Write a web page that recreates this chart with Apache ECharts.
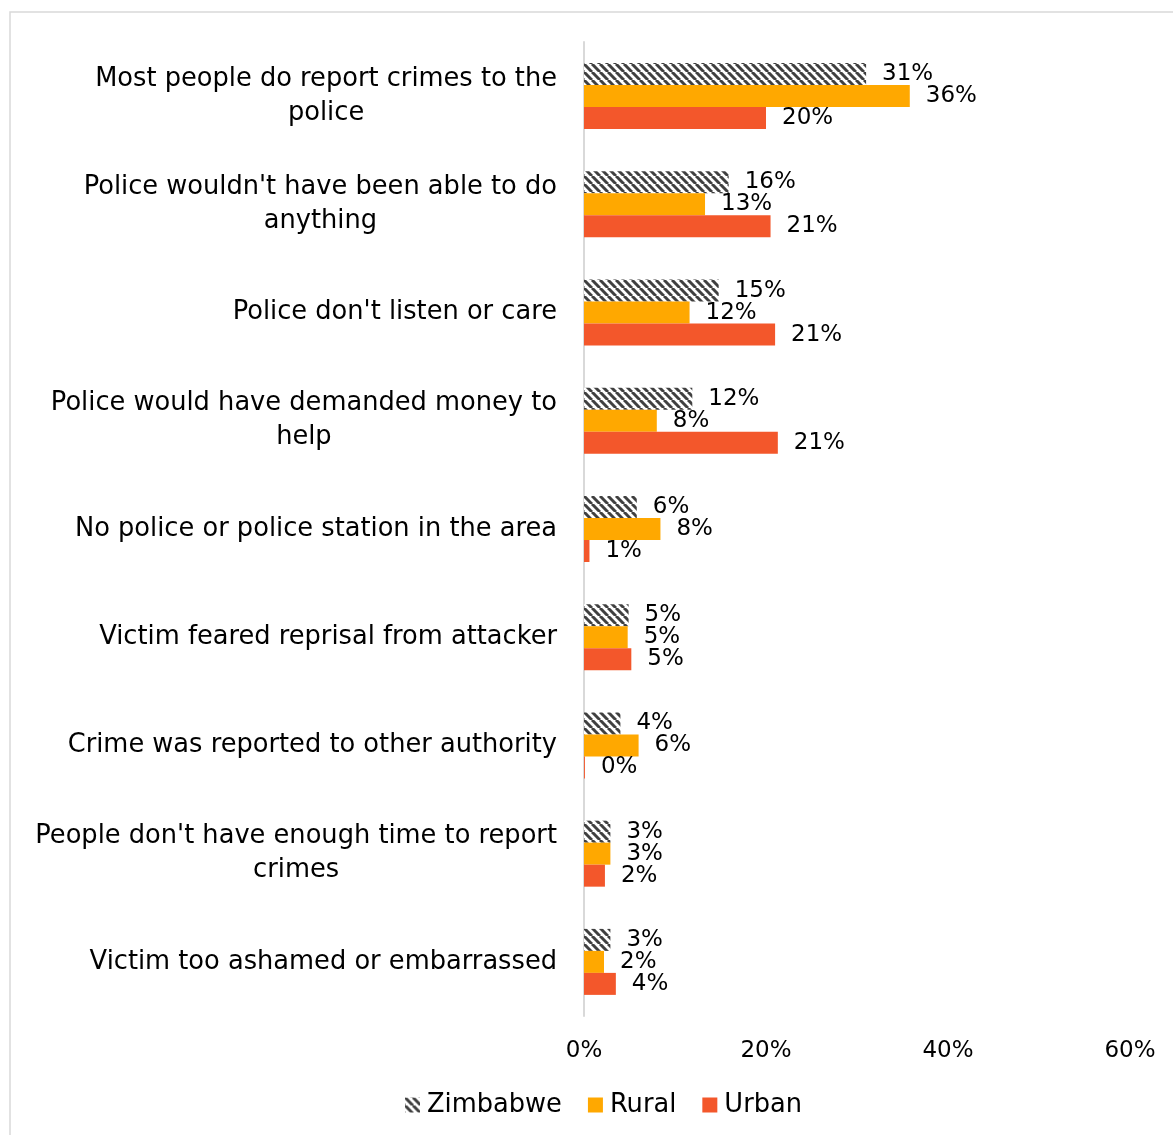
<!DOCTYPE html>
<html>
<head>
<meta charset="utf-8">
<script src="https://cdn.jsdelivr.net/npm/echarts@6/dist/echarts.min.js"></script>
<style>
html,body{margin:0;padding:0;background:#fff;}
#chart{width:1173px;height:1135px;}
</style>
</head>
<body>
<div id="chart"></div>
<script>
const categories = [
  "Most people do report crimes to the\npolice",
  "Police wouldn't have been able to do\nanything",
  "Police don't listen or care",
  "Police would have demanded money to\nhelp",
  "No police or police station in the area",
  "Victim feared reprisal from attacker",
  "Crime was reported to other authority",
  "People don't have enough time to report\ncrimes",
  "Victim too ashamed or embarrassed"
];
const zimbabwe = [31.0, 15.9, 14.8, 11.9, 5.8, 4.9, 4.0, 2.9, 2.9];
const rural    = [35.8, 13.3, 11.6, 8.0, 8.4, 4.8, 6.0, 2.9, 2.2];
const urban    = [20.0, 20.5, 21.0, 21.3, 0.6, 5.2, 0.1, 2.3, 3.5];
const xTicks = [0, 20, 40, 60];

const FONT = "DejaVu Sans";
const FS_TEXT = 25.7;
const FS_NUM = 23;

function hatch() {
  const c = document.createElement('canvas');
  c.width = 8; c.height = 8;
  const g = c.getContext('2d');
  g.fillStyle = '#ffffff';
  g.fillRect(0, 0, 8, 8);
  g.strokeStyle = '#404040';
  g.lineWidth = 3;
  for (let k = -8; k <= 16; k += 8) {
    g.beginPath();
    g.moveTo(k, 0);
    g.lineTo(k + 8, 8);
    g.stroke();
  }
  return c;
}
const hatchPattern = { image: hatch(), repeat: 'repeat' };

const chart = echarts.init(document.getElementById('chart'));
const labelCfg = {
  show: true,
  position: 'right',
  distance: 16,
  color: '#000',
  fontFamily: FONT,
  fontSize: FS_NUM,
  formatter: p => Math.round(p.value) + '%'
};
function mkSeries(name, data, color) {
  return {
    name: name,
    type: 'bar',
    data: data,
    barWidth: 22,
    barGap: '0%',
    itemStyle: { color: color },
    label: labelCfg,
    silent: true
  };
}
chart.setOption({
  animation: false,
  backgroundColor: '#fff',
  graphic: [{
    type: 'rect',
    shape: { x: 10, y: 12, width: 1170, height: 1140 },
    style: { fill: 'none', stroke: '#d9d9d9', lineWidth: 1.5 },
    silent: true,
    z: -1
  }],
  grid: { left: 584, right: 43, top: 42, bottom: 119, containLabel: false },
  xAxis: {
    type: 'value',
    min: xTicks[0],
    max: xTicks[xTicks.length - 1],
    interval: 20,
    splitLine: { show: false },
    axisLine: { show: false },
    axisTick: { show: false },
    axisLabel: {
      formatter: v => v + '%',
      color: '#000',
      fontFamily: FONT,
      fontSize: FS_NUM,
      margin: 24
    }
  },
  yAxis: {
    type: 'category',
    data: categories,
    inverse: true,
    axisLine: { show: true, lineStyle: { color: '#d9d9d9', width: 2 } },
    axisTick: { show: false },
    axisLabel: {
      margin: 27,
      color: '#000',
      fontFamily: FONT,
      fontSize: FS_TEXT,
      lineHeight: 34,
      formatter: v => v.split('\n').map(s => '{c|' + s + '}').join('\n'),
      rich: { c: { align: 'center', fontFamily: FONT, fontSize: FS_TEXT, color: '#000', lineHeight: 34 } }
    }
  },
  legend: {
    bottom: 12,
    left: 400,
    icon: 'rect',
    itemWidth: 15,
    itemHeight: 15,
    itemGap: 26,
    textStyle: { color: '#000', fontFamily: FONT, fontSize: FS_TEXT, padding: [0, 0, 0, 2] },
    data: ['Zimbabwe', 'Rural', 'Urban']
  },
  series: [
    mkSeries('Zimbabwe', zimbabwe, hatchPattern),
    mkSeries('Rural', rural, '#FFA800'),
    mkSeries('Urban', urban, '#F3572B')
  ]
});
</script>
</body>
</html>
